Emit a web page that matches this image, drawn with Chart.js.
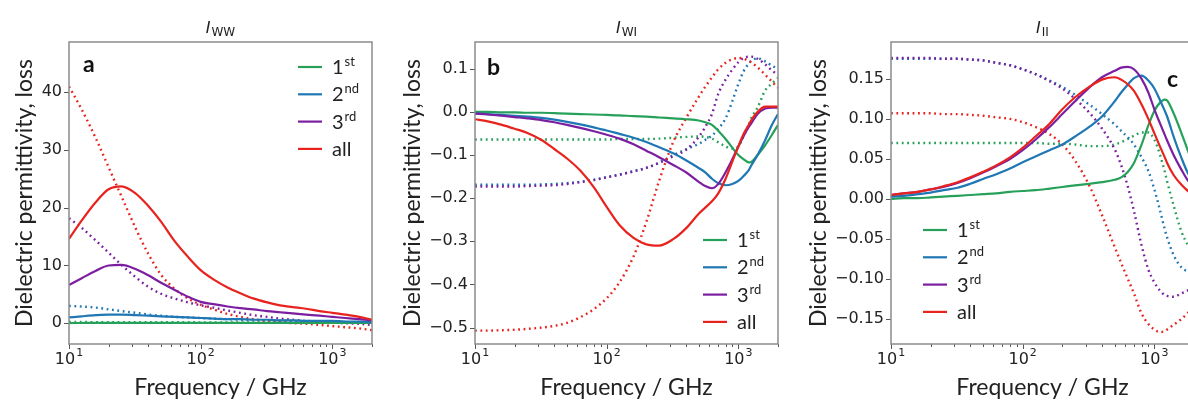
<!DOCTYPE html>
<html>
<head>
<meta charset="utf-8">
<script src="https://cdn.jsdelivr.net/npm/chart.js@4.4.1/dist/chart.umd.min.js"></script>
<style>
  html, body { margin: 0; padding: 0; background: #fff; overflow: hidden; width: 1188px; height: 403px; }
  canvas { position: absolute; top: 0; }
  #cWW { left: 0; }
  #cWI { left: 390px; }
  #cII { left: 795px; }
</style>
</head>
<body>
<canvas id="cWW" width="390" height="403"></canvas>
<canvas id="cWI" width="405" height="403"></canvas>
<canvas id="cII" width="420" height="403"></canvas>
<script>
// series
const seriesNames = ["1", "2", "3", "all"];
const seriesSup = ["st", "nd", "rd", ""];
const seriesColors = ["#27a05a", "#1f77b4", "#7b1fa0", "#e8231e"];

// x ticks (GHz): base and exponent
const xTickValues = [10, 100, 1000];
const xTickBase = "10";
const xTickExp = ["1", "2", "3"];

// panel a : I_WW
const freqWW = [10, 12.5, 16, 20, 25, 32, 40, 50, 63, 80, 100, 125, 160, 200, 250, 320, 400, 500, 630, 800, 1000, 1250, 1600, 2000];
const wwLine1st = [0.03, 0.04, 0.05, 0.05, 0.06, 0.06, 0.06, 0.06, 0.06, 0.06, 0.06, 0.06, 0.06, 0.06, 0.06, 0.06, 0.06, 0.06, 0.06, 0.06, 0.05, 0.05, 0.05, 0.04];
const wwLine2nd = [1.0, 1.2, 1.4, 1.5, 1.5, 1.4, 1.3, 1.2, 1.1, 1.0, 0.9, 0.8, 0.7, 0.7, 0.6, 0.6, 0.5, 0.5, 0.4, 0.4, 0.4, 0.3, 0.3, 0.2];
const wwLine3rd = [6.6, 7.8, 9.1, 10, 10.1, 9.4, 8.3, 7.0, 5.8, 4.6, 3.7, 3.3, 2.9, 2.6, 2.4, 2.1, 1.9, 1.7, 1.5, 1.3, 1.1, 0.9, 0.7, 0.5];
const wwLineAll = [14.6, 17.8, 21, 23.2, 23.7, 22.5, 20.3, 17.6, 14.3, 11.5, 9.2, 7.6, 6.2, 5.2, 4.3, 3.6, 3.1, 2.8, 2.5, 2.1, 1.8, 1.5, 1.1, 0.6];
const wwDot1st = [0.2, 0.2, 0.19, 0.19, 0.18, 0.18, 0.17, 0.17, 0.16, 0.16, 0.15, 0.15, 0.14, 0.14, 0.13, 0.12, 0.12, 0.11, 0.1, 0.09, 0.08, 0.07, 0.06, 0.05];
const wwDot2nd = [3.0, 2.9, 2.7, 2.4, 2.1, 1.8, 1.5, 1.3, 1.1, 1.0, 0.9, 0.8, 0.7, 0.6, 0.55, 0.5, 0.45, 0.4, 0.35, 0.3, 0.25, 0.2, 0.15, 0.1];
const wwDot3rd = [18.2, 16.5, 14.3, 12.2, 10.1, 8.0, 6.3, 5.1, 4.3, 3.6, 3.1, 2.7, 2.2, 1.8, 1.4, 1.1, 0.8, 0.6, 0.4, 0.3, 0.1, 0, -0.1, -0.3];
const wwDotAll = [41, 37, 32, 27, 22, 16.5, 12, 8.4, 6.0, 4.3, 3.2, 2.4, 1.6, 1.1, 0.7, 0.4, 0.2, 0, -0.1, -0.3, -0.5, -0.7, -0.9, -1.2];
const yTicksWW = [0, 10, 20, 30, 40];
const yLabelsWW = ["0", "10", "20", "30", "40"];

// panels b and c share one frequency grid
const freqBC = [10, 12.5, 16, 20, 25, 32, 40, 50, 63, 80, 100, 125, 160, 200, 250, 320, 400, 500, 560, 630, 700, 800, 900, 1000, 1100, 1200, 1250, 1400, 1600, 1800, 2000];

// panel b : I_WI
const wiLine1st = [0, 0, -0.001, -0.001, -0.002, -0.002, -0.003, -0.004, -0.005, -0.006, -0.007, -0.008, -0.01, -0.011, -0.013, -0.015, -0.017, -0.02, -0.024, -0.03, -0.043, -0.063, -0.083, -0.1, -0.11, -0.117, -0.116, -0.1, -0.077, -0.053, -0.03];
const wiLine2nd = [-0.003, -0.005, -0.007, -0.009, -0.011, -0.014, -0.018, -0.023, -0.029, -0.036, -0.043, -0.051, -0.06, -0.07, -0.082, -0.096, -0.112, -0.13, -0.14, -0.155, -0.165, -0.17, -0.167, -0.16, -0.148, -0.135, -0.125, -0.1, -0.065, -0.03, -0.005];
const wiLine3rd = [-0.004, -0.006, -0.009, -0.012, -0.015, -0.019, -0.024, -0.03, -0.037, -0.045, -0.053, -0.062, -0.075, -0.09, -0.105, -0.123, -0.14, -0.162, -0.172, -0.177, -0.168, -0.14, -0.11, -0.08, -0.055, -0.035, -0.027, -0.005, 0.008, 0.01, 0.01];
const wiLineAll = [-0.017, -0.022, -0.03, -0.039, -0.049, -0.065, -0.086, -0.108, -0.136, -0.175, -0.22, -0.262, -0.292, -0.307, -0.31, -0.295, -0.27, -0.236, -0.222, -0.207, -0.19, -0.155, -0.115, -0.08, -0.05, -0.03, -0.02, 0.0, 0.012, 0.012, 0.012];
const wiDot1st = [-0.064, -0.064, -0.064, -0.064, -0.064, -0.064, -0.064, -0.064, -0.064, -0.064, -0.064, -0.063, -0.063, -0.063, -0.062, -0.06, -0.058, -0.057, -0.058, -0.062, -0.07, -0.08, -0.085, -0.08, -0.055, -0.03, -0.015, 0.01, 0.05, 0.066, 0.079];
const wiDot2nd = [-0.169, -0.169, -0.169, -0.169, -0.169, -0.168, -0.167, -0.165, -0.162, -0.157, -0.151, -0.145, -0.137, -0.13, -0.118, -0.1, -0.087, -0.074, -0.065, -0.055, -0.04, -0.015, 0.025, 0.065, 0.095, 0.112, 0.118, 0.124, 0.117, 0.107, 0.1];
const wiDot3rd = [-0.173, -0.173, -0.173, -0.173, -0.172, -0.171, -0.17, -0.167, -0.163, -0.158, -0.152, -0.146, -0.138, -0.13, -0.118, -0.103, -0.088, -0.058, -0.035, -0.005, 0.04, 0.075, 0.098, 0.115, 0.125, 0.128, 0.128, 0.123, 0.11, 0.096, 0.086];
const wiDotAll = [-0.507, -0.507, -0.506, -0.505, -0.503, -0.5, -0.496, -0.489, -0.476, -0.457, -0.432, -0.395, -0.335, -0.255, -0.16, -0.07, -0.015, 0.035, 0.058, 0.08, 0.098, 0.114, 0.122, 0.125, 0.123, 0.118, 0.115, 0.103, 0.086, 0.07, 0.056];
const yTicksWI = [-0.5, -0.4, -0.3, -0.2, -0.1, 0, 0.1];
const yLabelsWI = ["\u22120.5", "\u22120.4", "\u22120.3", "\u22120.2", "\u22120.1", "0.0", "0.1"];

// panel c : I_II
const iiLine1st = [0.0, 0.001, 0.001, 0.002, 0.003, 0.004, 0.005, 0.006, 0.007, 0.009, 0.01, 0.011, 0.013, 0.015, 0.017, 0.019, 0.021, 0.024, 0.027, 0.034, 0.045, 0.068, 0.092, 0.11, 0.12, 0.124, 0.123, 0.107, 0.083, 0.06, 0.04];
const iiLine2nd = [0.003, 0.004, 0.006, 0.008, 0.011, 0.014, 0.019, 0.025, 0.031, 0.038, 0.046, 0.053, 0.061, 0.068, 0.078, 0.09, 0.103, 0.122, 0.133, 0.143, 0.151, 0.154, 0.148, 0.138, 0.124, 0.11, 0.103, 0.078, 0.052, 0.032, 0.02];
const iiLine3rd = [0.005, 0.007, 0.009, 0.012, 0.015, 0.02, 0.026, 0.033, 0.041, 0.05, 0.061, 0.074, 0.09, 0.106, 0.122, 0.139, 0.152, 0.16, 0.164, 0.165, 0.162, 0.15, 0.133, 0.112, 0.095, 0.08, 0.073, 0.055, 0.037, 0.023, 0.015];
const iiLineAll = [0.005, 0.007, 0.009, 0.012, 0.016, 0.021, 0.027, 0.034, 0.042, 0.052, 0.064, 0.078, 0.094, 0.112, 0.127, 0.14, 0.149, 0.152, 0.149, 0.143, 0.135, 0.118, 0.1, 0.082, 0.066, 0.052, 0.045, 0.03, 0.018, 0.01, 0.006];
const iiDot1st = [0.07, 0.07, 0.07, 0.07, 0.07, 0.07, 0.07, 0.07, 0.07, 0.07, 0.07, 0.07, 0.069, 0.069, 0.068, 0.066, 0.066, 0.068, 0.071, 0.075, 0.079, 0.083, 0.083, 0.074, 0.056, 0.034, 0.022, -0.008, -0.04, -0.058, -0.072];
const iiDot2nd = [0.175, 0.175, 0.175, 0.175, 0.175, 0.175, 0.174, 0.173, 0.17, 0.167, 0.162, 0.156, 0.148, 0.14, 0.13, 0.118, 0.106, 0.093, 0.085, 0.077, 0.068, 0.052, 0.035, 0.012, -0.013, -0.038, -0.048, -0.07, -0.085, -0.09, -0.09];
const iiDot3rd = [0.176, 0.176, 0.176, 0.176, 0.175, 0.175, 0.174, 0.173, 0.17, 0.167, 0.162, 0.156, 0.147, 0.138, 0.125, 0.108, 0.088, 0.062, 0.042, 0.015, -0.015, -0.058, -0.088, -0.104, -0.114, -0.12, -0.121, -0.122, -0.118, -0.114, -0.11];
const iiDotAll = [0.107, 0.107, 0.107, 0.107, 0.106, 0.106, 0.105, 0.104, 0.102, 0.1, 0.096, 0.09, 0.081, 0.068, 0.048, 0.017, -0.02, -0.06, -0.08, -0.1, -0.118, -0.143, -0.156, -0.163, -0.166, -0.165, -0.163, -0.157, -0.15, -0.142, -0.135];
const yTicksII = [-0.15, -0.1, -0.05, 0, 0.05, 0.1, 0.15];
const yLabelsII = ["\u22120.15", "\u22120.10", "\u22120.05", "0.00", "0.05", "0.10", "0.15"];

const TEXT = "#222";
const FRAME = "#8c8c8c";

// frame, tick marks, x tick labels, title, panel letter and legend (matplotlib look)
const panelDecor = {
  id: "panelDecor",
  afterDraw(chart, args, o) {
    const { ctx, chartArea: a, scales: { x, y } } = chart;
    ctx.save();
    ctx.strokeStyle = "#555";
    ctx.lineWidth = 1;
    ctx.beginPath();
    // log minor + major ticks
    for (const d of [10, 100, 1000]) {
      for (let m = 1; m < 10; m++) {
        const v = d * m;
        if (v < x.min || v > x.max) continue;
        const px = Math.round(x.getPixelForValue(v)) + 0.5;
        ctx.moveTo(px, a.bottom);
        ctx.lineTo(px, a.bottom + (m === 1 ? 5 : 3));
      }
    }
    o.yTicks.forEach((v) => {
      const py = Math.round(y.getPixelForValue(v)) + 0.5;
      ctx.moveTo(a.left - 5, py);
      ctx.lineTo(a.left, py);
    });
    ctx.stroke();

    ctx.strokeStyle = FRAME;
    ctx.lineWidth = 1.5;
    ctx.strokeRect(a.left, a.top, a.right - a.left, a.bottom - a.top);

    ctx.fillStyle = TEXT;
    ctx.textBaseline = "alphabetic";
    ctx.textAlign = "left";

    // x tick labels 10^n
    xTickValues.forEach((v, i) => {
      ctx.font = '16px "DejaVu Sans"';
      const wb = ctx.measureText(xTickBase).width;
      ctx.font = '11px "DejaVu Sans"';
      const we = ctx.measureText(xTickExp[i]).width;
      const left = x.getPixelForValue(v) - (wb + we + 1) / 2;
      ctx.font = '16px "DejaVu Sans"';
      ctx.fillText(xTickBase, left, a.bottom + 20);
      ctx.font = '11px "DejaVu Sans"';
      ctx.fillText(xTickExp[i], left + wb + 1, a.bottom + 12);
    });

    // title  I_sub
    ctx.font = 'italic 16px "DejaVu Sans"';
    const wI = ctx.measureText("I").width;
    ctx.font = '12px "DejaVu Sans"';
    const wS = ctx.measureText(o.sub).width;
    const x0 = (a.left + a.right) / 2 - (wI + wS + 1) / 2;
    ctx.font = 'italic 16px "DejaVu Sans"';
    ctx.fillText("I", x0, 33);
    ctx.font = '12px "DejaVu Sans"';
    ctx.fillText(o.sub, x0 + wI + 1, 36);

    // panel letter
    ctx.font = 'bold 23px "Lato"';
    ctx.fillStyle = "#111";
    ctx.fillText(o.letter, o.letterX, o.letterY);

    // legend
    seriesNames.forEach((name, i) => {
      const ly = o.legendY + i * 27.3;
      ctx.strokeStyle = seriesColors[i];
      ctx.lineWidth = 2.2;
      ctx.beginPath();
      ctx.moveTo(o.legendX, ly);
      ctx.lineTo(o.legendX + 24, ly);
      ctx.stroke();
      ctx.fillStyle = TEXT;
      ctx.font = '20px "Lato"';
      const tx = o.legendX + 34;
      ctx.fillText(name, tx, ly + 7);
      if (seriesSup[i]) {
        const w = ctx.measureText(name).width;
        ctx.font = '13px "Lato"';
        ctx.fillText(seriesSup[i], tx + w + 1, ly - 1);
      }
    });
    ctx.restore();
  },
};

function buildPanel(id, cfg) {
  const datasets = [];
  cfg.dots.forEach((vals, i) => {
    datasets.push({
      data: cfg.freq.map((f, k) => ({ x: f, y: vals[k] })),
      borderColor: seriesColors[i],
      borderWidth: 2.4,
      borderDash: [1.8, 3.6],
      order: 10 - i,
    });
  });
  cfg.lines.forEach((vals, i) => {
    datasets.push({
      data: cfg.freq.map((f, k) => ({ x: f, y: vals[k] })),
      borderColor: seriesColors[i],
      borderWidth: 2.2,
      order: 4 - i,
    });
  });

  return new Chart(document.getElementById(id), {
    type: "line",
    data: { datasets },
    options: {
      responsive: false,
      animation: false,
      events: [],
      layout: { padding: { top: 42, right: cfg.padRight, left: 0, bottom: 0 } },
      elements: {
        point: { radius: 0 },
        line: { cubicInterpolationMode: "monotone", fill: false },
      },
      plugins: {
        legend: { display: false },
        tooltip: { enabled: false },
        panelDecor: cfg.decor,
      },
      scales: {
        x: {
          type: "logarithmic",
          min: 10,
          max: 2000,
          afterBuildTicks: (s) => { s.ticks = xTickValues.map((v) => ({ value: v })); },
          afterFit: (s) => { s.height = 59; },
          grid: { display: false, drawTicks: false },
          border: { display: false },
          ticks: { display: false },
          title: {
            display: true,
            text: "Frequency / GHz",
            color: TEXT,
            font: { family: "Lato", size: 23 },
            padding: { top: 0, bottom: 2 },
          },
        },
        y: {
          min: cfg.yMin,
          max: cfg.yMax,
          afterBuildTicks: (s) => { s.ticks = cfg.decor.yTicks.map((v) => ({ value: v })); },
          afterFit: (s) => { s.width = cfg.yWidth; },
          grid: { display: false, drawTicks: false },
          border: { display: false },
          ticks: {
            callback: (v, i) => cfg.yLabels[i],
            autoSkip: false,
            padding: 7,
            color: TEXT,
            font: { family: "DejaVu Sans", size: 16 },
          },
          title: {
            display: true,
            text: "Dielectric permittivity, loss",
            color: TEXT,
            font: { family: "Lato", size: 23 },
            padding: { top: cfg.yTitlePad, bottom: 0 },
          },
        },
      },
    },
    plugins: [panelDecor],
  });
}

buildPanel("cWW", {
  freq: freqWW,
  lines: [wwLine1st, wwLine2nd, wwLine3rd, wwLineAll],
  dots: [wwDot1st, wwDot2nd, wwDot3rd, wwDotAll],
  yMin: -3.6, yMax: 48.7,
  yLabels: yLabelsWW,
  yWidth: 69, padRight: 18, yTitlePad: 11,
  decor: { yTicks: yTicksWW, sub: "WW", letter: "a", letterX: 83, letterY: 72, legendX: 298, legendY: 67 },
});

buildPanel("cWI", {
  freq: freqBC,
  lines: [wiLine1st, wiLine2nd, wiLine3rd, wiLineAll],
  dots: [wiDot1st, wiDot2nd, wiDot3rd, wiDotAll],
  yMin: -0.538, yMax: 0.162,
  yLabels: yLabelsWI,
  yWidth: 85, padRight: 17, yTitlePad: 9,
  decor: { yTicks: yTicksWI, sub: "WI", letter: "b", letterX: 97, letterY: 75, legendX: 313, legendY: 240 },
});

buildPanel("cII", {
  freq: freqBC,
  lines: [iiLine1st, iiLine2nd, iiLine3rd, iiLineAll],
  dots: [iiDot1st, iiDot2nd, iiDot3rd, iiDotAll],
  yMin: -0.181, yMax: 0.196,
  yLabels: yLabelsII,
  yWidth: 96, padRight: 21, yTitlePad: 10,
  decor: { yTicks: yTicksII, sub: "II", letter: "c", letterX: 372, letterY: 87, legendX: 128, legendY: 230 },
});
</script>
</body>
</html>
